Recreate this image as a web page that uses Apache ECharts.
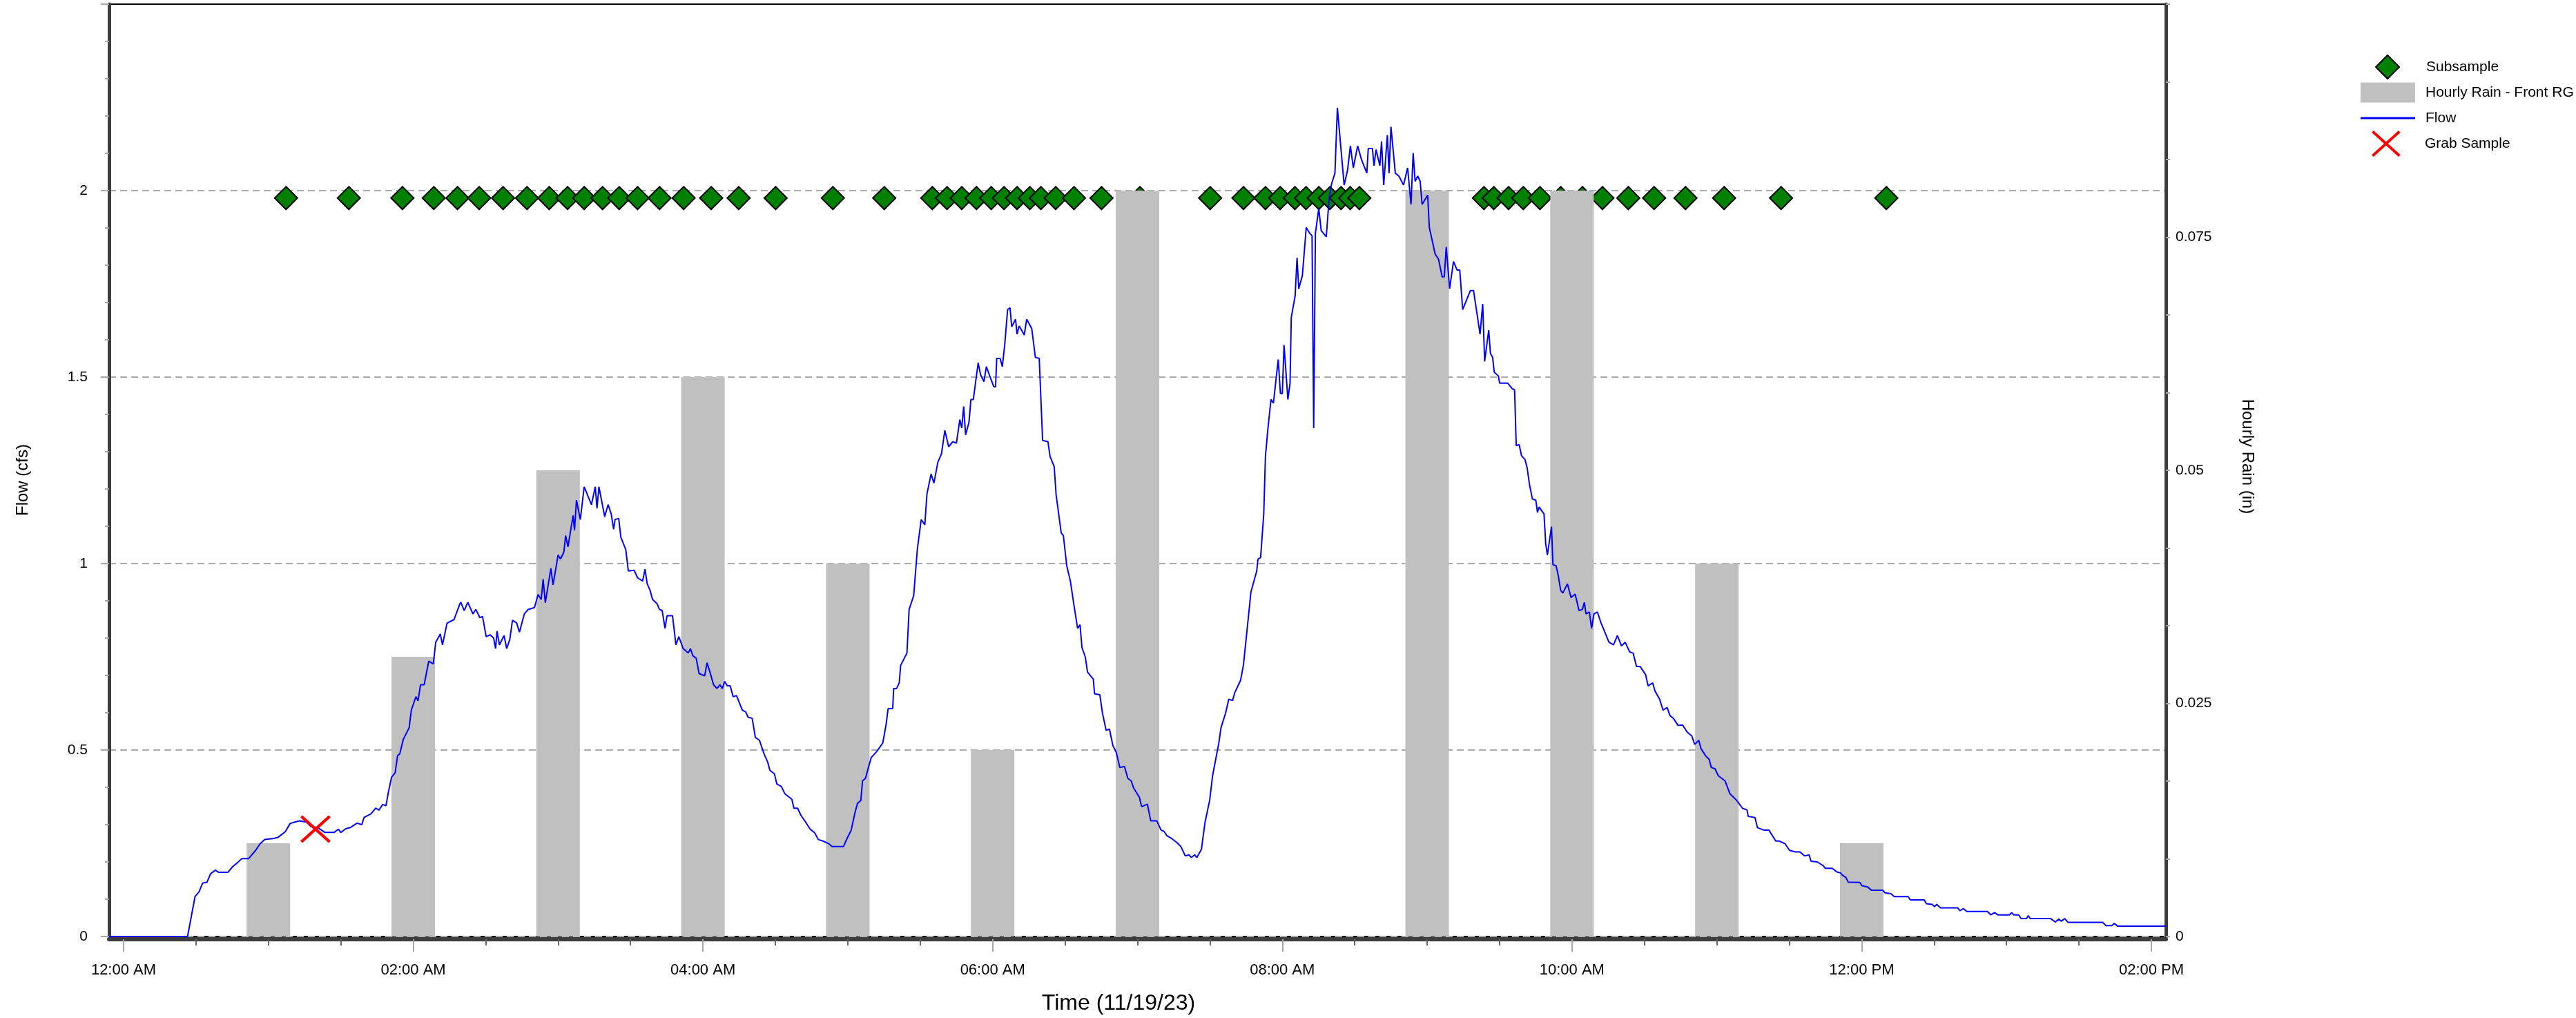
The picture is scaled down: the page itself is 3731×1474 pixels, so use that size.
<!DOCTYPE html>
<html>
<head>
<meta charset="utf-8">
<title>Flow, hourly rain and samples – 11/19/23</title>
<script src="https://cdn.jsdelivr.net/npm/echarts@6/dist/echarts.min.js"></script>
<style>
  html, body { margin: 0; padding: 0; background: #ffffff; }
  #chart { width: 3731px; height: 1474px; }
</style>
</head>
<body>
<div id="chart"></div>
<script>
// Times are minutes after midnight on 11/19/23.

// Hourly rain at the Front RG gauge (bar centred on the hour), inches
const rainHourMinutes = [60, 120, 180, 240, 300, 360, 420, 480, 540, 600, 660, 720, 780];
const rainInches      = [0.01, 0.03, 0.05, 0.06, 0.04, 0.02, 0.08, 0, 0.08, 0.08, 0.04, 0.01, 0];

// Composite subsample pulls, plotted along a fixed reference level
const subsampleMinutes = [
  67.3, 93.3, 115.5, 128.5, 138.3, 147.3, 157.2, 167.1, 176.3, 183.9, 190.8, 198.4,
  205.3, 212.9, 222.0, 232.0, 243.4, 254.8, 270.1, 293.8, 315.1, 335.0, 341.1, 347.2,
  353.3, 359.4, 364.7, 370.1, 375.4, 380.0, 386.1, 393.7, 405.1, 421.0, 450.1, 463.9,
  473.0, 479.1, 485.2, 489.8, 495.1, 499.7, 504.3, 508.1, 511.9, 563.5, 567.6, 573.7,
  579.8, 586.7, 595.3, 604.3, 612.6, 623.3, 634.0, 647.0, 663.0, 686.6, 730.2
];
const subsampleLevel = 1.98;

// Grab sample
const grabMinutes = [79.5];
const grabCfs     = [0.288];

// Flow record [minute, cfs]
const flowReadings = [
  [-6,0],[26.5,0],[29.6,0.107],[31.3,0.12],[32.7,0.143],[34.6,0.146],[36,0.168],[38,0.178],
  [39.4,0.172],[43.2,0.172],[45,0.186],[47,0.197],[49,0.209],[51.8,0.209],[54.7,0.231],
  [56.6,0.249],[58.5,0.26],[62.3,0.263],[64,0.266],[67,0.281],[69,0.303],[71,0.307],
  [72.8,0.31],[75.7,0.307],[77.6,0.295],[80.5,0.292],[83.4,0.279],[87.2,0.279],[89,0.288],
  [90,0.279],[92,0.289],[93.9,0.292],[96.7,0.304],[98.7,0.3],[99.6,0.319],[102.5,0.329],
  [104.4,0.344],[105.8,0.339],[107.3,0.354],[108.7,0.351],[109.7,0.387],[111,0.427],
  [112.5,0.439],[113.5,0.485],[114.4,0.49],[115.9,0.529],[118.3,0.56],[119.2,0.607],
  [121.1,0.643],[122,0.632],[123,0.675],[124.5,0.675],[126.4,0.738],[128.3,0.731],
  [129.3,0.789],[131.2,0.811],[132.1,0.782],[134,0.84],[136.9,0.85],[139.3,0.892],
  [139.7,0.896],[141.1,0.874],[142.6,0.896],[144.7,0.865],[145.9,0.877],[147.6,0.855],
  [148.7,0.858],[150.2,0.804],[151.9,0.809],[153.3,0.8],[154.1,0.772],[154.7,0.819],
  [155.7,0.782],[157.6,0.807],[158.7,0.772],[160,0.797],[161.1,0.848],[162.8,0.841],
  [164,0.816],[166,0.865],[167.6,0.877],[170.2,0.882],[171.7,0.917],[173,0.904],
  [173.8,0.958],[174.7,0.895],[177,0.987],[177.9,0.943],[180,1.023],[181,1.012],
  [182.4,1.031],[183.1,1.075],[184.1,1.045],[186.2,1.129],[186.8,1.089],[187.6,1.17],
  [189.2,1.118],[190.8,1.206],[193.8,1.158],[195.4,1.206],[196.1,1.148],[196.9,1.206],
  [199.3,1.126],[200.7,1.158],[202,1.133],[203,1.092],[203.6,1.118],[205.1,1.121],
  [206,1.07],[208,1.038],[209.1,0.98],[211.5,0.982],[212.9,0.962],[215,0.953],[216,0.985],
  [216.9,0.946],[218.1,0.928],[219.1,0.904],[221,0.892],[222,0.877],[223.1,0.874],
  [224.3,0.826],[225.1,0.86],[227.4,0.86],[228.8,0.782],[230,0.804],[231.8,0.772],
  [233.9,0.76],[234.8,0.772],[235.8,0.753],[237.2,0.746],[238.4,0.705],[240.7,0.699],
  [241.7,0.734],[242.9,0.709],[244.4,0.675],[245.8,0.665],[247,0.675],[248,0.665],
  [249,0.684],[250.1,0.672],[251.3,0.672],[252.5,0.643],[253.9,0.646],[256.3,0.607],
  [257.7,0.602],[258.7,0.588],[260.4,0.585],[261.7,0.534],[263.4,0.526],[265.3,0.49],
  [266.8,0.468],[267.7,0.446],[269.6,0.436],[270.6,0.409],[272.5,0.402],[273.9,0.383],
  [276.8,0.368],[277.7,0.344],[279.2,0.344],[280.6,0.325],[282.5,0.307],[284.4,0.288],
  [286.3,0.278],[287.8,0.26],[289.7,0.256],[292.1,0.249],[293.5,0.241],[298.2,0.241],
  [299.7,0.263],[301.4,0.285],[303,0.333],[304,0.357],[305.4,0.365],[306.1,0.417],
  [307.3,0.424],[309.7,0.48],[312.1,0.497],[314.5,0.519],[315.9,0.57],[316.7,0.611],
  [318.6,0.611],[319,0.665],[320.2,0.665],[321.3,0.68],[321.9,0.727],[324.5,0.76],
  [325.4,0.877],[327.3,0.914],[328.8,1.038],[330.4,1.118],[331.9,1.104],[332.8,1.187],
  [334.5,1.24],[335,1.24],[335.7,1.216],[337.3,1.272],[338.8,1.294],[340.2,1.357],
  [341.8,1.313],[343.5,1.327],[345,1.323],[346.4,1.386],[347.2,1.363],[348,1.421],
  [348.8,1.345],[350.2,1.379],[351,1.44],[352,1.44],[354,1.538],[355,1.506],[356.4,1.488],
  [357.4,1.528],[358.8,1.503],[360.5,1.474],[361.2,1.474],[361.7,1.55],[363.1,1.55],
  [364,1.528],[365,1.586],[366.2,1.681],[367.2,1.686],[367.9,1.635],[369.5,1.655],
  [370.1,1.615],[371,1.637],[373.1,1.613],[374.1,1.655],[376.2,1.63],[377.7,1.553],
  [379.3,1.55],[380.7,1.33],[382.9,1.327],[383.8,1.287],[385.5,1.26],[386.3,1.184],
  [388.4,1.082],[389.3,1.075],[390.7,0.994],[392.2,0.953],[393.6,0.892],[395.2,0.826],
  [396.2,0.836],[397,0.775],[398.4,0.749],[399.3,0.709],[401.7,0.69],[402.2,0.651],
  [404.4,0.648],[405.5,0.599],[407,0.553],[408.4,0.556],[409.8,0.512],[411.2,0.494],
  [412.7,0.453],[414.6,0.456],[416,0.424],[417.4,0.417],[418.4,0.398],[420.8,0.373],
  [421.7,0.348],[424.1,0.355],[425.5,0.31],[428,0.31],[429.8,0.285],[431,0.282],
  [432.2,0.27],[434.1,0.263],[436.5,0.251],[438,0.241],[439.8,0.216],[441.3,0.219],
  [442.3,0.212],[443.7,0.219],[444.6,0.212],[446.5,0.234],[448,0.307],[449.9,0.365],
  [451.1,0.431],[453.7,0.519],[454.6,0.56],[456.5,0.599],[457.8,0.636],[459.4,0.633],
  [460.3,0.654],[462.7,0.687],[463.9,0.728],[467,0.924],[469.4,0.98],[469.9,1.012],
  [471,1.016],[472.3,1.133],[473,1.287],[474,1.36],[475.3,1.44],[476.3,1.43],[478.3,1.547],
  [479.2,1.456],[480,1.456],[480.7,1.586],[482.3,1.44],[483.2,1.484],[483.7,1.659],
  [485.3,1.718],[486.1,1.82],[486.8,1.737],[488.3,1.772],[489.9,1.901],[491.3,1.886],
  [492.3,1.879],[493,1.363],[493.7,1.886],[495.1,1.952],[496.1,1.893],[498.2,1.876],
  [499.4,1.981],[500.4,2.018],[501.8,2.047],[502.8,2.222],[505.6,2.015],[507,2.054],
  [508.2,2.12],[509.4,2.061],[511.2,2.12],[512.8,2.083],[515,2.047],[515.6,2.113],
  [517.3,2.113],[518,2.067],[518.8,2.11],[520.4,2.067],[521.1,2.132],[522,2.015],
  [523.5,2.149],[524.2,2.047],[525,2.171],[526.8,2.047],[528.3,2.039],[530.2,2.015],
  [531.9,2.061],[533.3,1.963],[534.2,2.101],[535,2.025],[536.1,2.039],[537.1,2.025],
  [537.9,1.963],[540.2,1.988],[540.9,1.901],[543.3,1.83],[544.7,1.816],[546.2,1.769],
  [547.1,1.769],[547.9,1.849],[549.3,1.737],[550.9,1.81],[552.4,1.787],[553.5,1.787],
  [554.7,1.681],[557.9,1.732],[559.2,1.732],[561.9,1.615],[563,1.696],[563.8,1.542],
  [565.5,1.626],[566.2,1.564],[567.1,1.553],[567.8,1.513],[569.5,1.503],[570,1.484],
  [573.3,1.484],[575.2,1.469],[576.2,1.466],[576.9,1.316],[578.1,1.319],[579.1,1.289],
  [580.5,1.279],[581.4,1.257],[582.4,1.211],[583.6,1.173],[585,1.17],[585.7,1.137],
  [586.4,1.152],[587.6,1.14],[588.4,1.133],[589.1,1.053],[589.8,1.023],[591.5,1.099],
  [592.1,0.997],[593.4,0.994],[594.3,0.968],[595.3,0.928],[596.2,0.921],[598.1,0.946],
  [599.6,0.909],[601.3,0.918],[602.9,0.874],[604.3,0.877],[605.1,0.896],[605.8,0.865],
  [607.2,0.87],[608.1,0.826],[609.1,0.865],[610.5,0.87],[612,0.841],[613.4,0.819],
  [615.3,0.789],[617.2,0.782],[618.8,0.807],[620.5,0.779],[622,0.789],[623.9,0.763],
  [625.3,0.76],[626.7,0.724],[628.2,0.724],[630.5,0.702],[631.5,0.672],[633.4,0.68],
  [634.4,0.658],[636.3,0.636],[637.7,0.607],[639.4,0.614],[640.6,0.592],[642,0.585],
  [643.9,0.566],[645.8,0.567],[647.7,0.548],[649.6,0.538],[650.8,0.515],[652.5,0.526],
  [653.4,0.504],[655.3,0.485],[656.8,0.475],[657.7,0.453],[659.2,0.45],[660.6,0.431],
  [663.4,0.417],[665.4,0.383],[668.2,0.365],[670.6,0.344],[672.5,0.339],[673,0.322],
  [675.8,0.319],[676.8,0.292],[679.6,0.285],[681.6,0.285],[684.4,0.256],[685.8,0.256],
  [688.2,0.249],[690.1,0.231],[692.5,0.227],[694.4,0.227],[696.3,0.216],[698.2,0.219],
  [699,0.202],[701.6,0.2],[704,0.19],[704.9,0.183],[707.8,0.183],[709.7,0.173],
  [711.1,0.171],[712.1,0.164],[713.5,0.158],[714.4,0.146],[719.2,0.145],[720.1,0.136],
  [722.5,0.133],[724,0.124],[728.7,0.124],[729.7,0.117],[732.1,0.115],[733.5,0.107],
  [739.2,0.107],[740.2,0.098],[745.9,0.098],[746.8,0.088],[749.2,0.086],[750.2,0.08],
  [751.1,0.086],[752.6,0.077],[759.7,0.077],[760.7,0.069],[762.1,0.075],[763.5,0.067],
  [772.1,0.067],[773.5,0.058],[775,0.064],[776.4,0.058],[781.2,0.058],[782.1,0.064],
  [783,0.058],[785,0.058],[786,0.048],[788.3,0.048],[789,0.056],[789.8,0.048],[798.3,0.048],
  [800.2,0.039],[801.7,0.047],[802.6,0.041],[804.1,0.048],[805.5,0.038],[819.8,0.038],
  [821.2,0.029],[823.6,0.029],[824.6,0.035],[826,0.028],[846,0.028]
];

// Time axis ticks and labels
const timeTickMinutes = [0, 120, 240, 360, 480, 600, 720, 840];
const timeTickLabels  = ['12:00 AM', '02:00 AM', '04:00 AM', '06:00 AM', '08:00 AM', '10:00 AM', '12:00 PM', '02:00 PM'];
const timeMinorTickMinutes = [30, 60, 90, 150, 180, 210, 270, 300, 330, 390, 420, 450,
                              510, 540, 570, 630, 660, 690, 750, 780, 810];

// A red "X" drawn as two crossing bars
const X_MARK = 'path://M0,3 L3,0 L44,37 L41,40 Z M41,0 L44,3 L3,40 L0,37 Z';
// Plain line swatch for the flow legend entry
const LINE_SWATCH = 'path://M0,0 L79,0 L79,3 L0,3 Z';

const FONT = '"Liberation Sans", Arial, Helvetica, sans-serif';
const AXIS_DARK = '#3d3d3d';
const TICK_GRAY = '#a8a8a8';

const chart = echarts.init(document.getElementById('chart'), null, { renderer: 'canvas' });

function timeLabel(v) {
  const i = timeTickMinutes.indexOf(v);
  return i >= 0 ? timeTickLabels[i] : '';
}

const legendText = (pad) => ({ fontFamily: FONT, fontSize: 21, color: '#000', padding: [0, 0, 0, pad] });

const option = {
  animation: false,
  backgroundColor: '#ffffff',
  textStyle: { fontFamily: FONT },
  grid: {
    left: 158, top: 6, width: 2979, height: 1352,
    show: true, borderColor: '#000', borderWidth: 2, backgroundColor: 'transparent'
  },
  legend: [
    {
      data: [{ name: 'Subsample', icon: 'diamond' }],
      left: 3440, top: 79, padding: 0, itemWidth: 34, itemHeight: 34,
      itemStyle: { borderColor: '#000', borderWidth: 2, opacity: 1 },
      textStyle: legendText(34), selectedMode: false
    },
    {
      data: [{ name: 'Hourly Rain - Front RG', icon: 'rect' }],
      left: 3419, top: 119.5, padding: 0, itemWidth: 79, itemHeight: 29,
      textStyle: legendText(10), selectedMode: false
    },
    {
      data: [{ name: 'Flow', icon: LINE_SWATCH }],
      left: 3419, top: 160.5, padding: 0, itemWidth: 79, itemHeight: 3,
      itemStyle: { color: '#0000ff' },
      textStyle: legendText(10), selectedMode: false
    },
    {
      data: [{ name: 'Grab Sample', icon: X_MARK }],
      left: 3435, top: 189, padding: 0, itemWidth: 44, itemHeight: 38,
      itemStyle: { opacity: 1 },
      textStyle: legendText(29), selectedMode: false
    }
  ],
  xAxis: [
    {
      type: 'value', min: -6, max: 846, position: 'bottom', offset: 4,
      axisLine: { show: true, onZero: false, lineStyle: { color: AXIS_DARK, width: 6 } },
      axisTick: { show: true, customValues: timeTickMinutes, length: 18, lineStyle: { color: TICK_GRAY, width: 2 } },
      axisLabel: {
        show: true, customValues: timeTickMinutes, formatter: timeLabel,
        margin: 34, fontSize: 22, color: '#000', fontFamily: FONT
      },
      splitLine: { show: false },
      name: 'Time (11/19/23)', nameLocation: 'middle', nameGap: 77,
      nameTextStyle: { fontSize: 32, color: '#000', fontFamily: FONT, padding: [0, 55, 0, 0] }
    },
    {
      type: 'value', min: -6, max: 846, position: 'bottom', offset: 4,
      axisLine: { show: false, onZero: false },
      axisTick: { show: true, customValues: timeMinorTickMinutes, length: 9, lineStyle: { color: '#666', width: 2 } },
      axisLabel: { show: false, customValues: timeMinorTickMinutes },
      splitLine: { show: false }
    }
  ],
  yAxis: [
    {
      type: 'value', min: 0, max: 2.5, interval: 0.5, position: 'left',
      axisLine: { show: true, onZero: false, lineStyle: { color: AXIS_DARK, width: 5 } },
      axisTick: { show: true, length: 12, lineStyle: { color: TICK_GRAY, width: 2 } },
      minorTick: { show: true, splitNumber: 5, length: 6, lineStyle: { color: TICK_GRAY, width: 2 } },
      axisLabel: { margin: 31, fontSize: 21, color: '#000', fontFamily: FONT, showMaxLabel: false },
      splitLine: { show: true, showMaxLine: false, lineStyle: { color: '#aaaaaa', width: 2, type: [10, 6] } },
      name: 'Flow (cfs)', nameLocation: 'middle', nameGap: 113,
      nameTextStyle: { fontSize: 24, color: '#000', fontFamily: FONT, padding: [0, 28, 0, 0] }
    },
    {
      type: 'value', min: 0, max: 0.1, interval: 0.025, position: 'right',
      axisLine: { show: true, onZero: false, lineStyle: { color: AXIS_DARK, width: 5 } },
      axisTick: { show: true, length: 6, lineStyle: { color: TICK_GRAY, width: 2 } },
      minorTick: { show: true, splitNumber: 3, length: 6, lineStyle: { color: TICK_GRAY, width: 2 } },
      axisLabel: { margin: 14, fontSize: 21, color: '#000', fontFamily: FONT, showMaxLabel: false },
      splitLine: { show: false },
      name: 'Hourly Rain (in)', nameLocation: 'middle', nameRotate: -90, nameGap: 106,
      nameTextStyle: { fontSize: 24, color: '#000', fontFamily: FONT, padding: [0, 40, 0, 0] }
    }
  ],
  series: [
    {
      name: 'Subsample', type: 'scatter', xAxisIndex: 0, yAxisIndex: 0, z: 2,
      symbol: 'diamond', symbolSize: [33, 33],
      itemStyle: { color: '#008000', borderColor: '#000', borderWidth: 2, opacity: 1 },
      data: subsampleMinutes.map(m => [m, subsampleLevel])
    },
    {
      name: 'Hourly Rain - Front RG', type: 'bar', xAxisIndex: 0, yAxisIndex: 1, z: 3,
      barWidth: 63,
      itemStyle: { color: '#c0c0c0' },
      data: rainHourMinutes.map((m, i) => [m, rainInches[i]])
    },
    {
      name: 'Flow', type: 'line', xAxisIndex: 0, yAxisIndex: 0, z: 4,
      symbol: 'none', showSymbol: false,
      lineStyle: { color: '#0000ff', width: 2 },
      itemStyle: { color: '#0000ff' },
      data: flowReadings
    },
    {
      name: 'Grab Sample', type: 'scatter', xAxisIndex: 0, yAxisIndex: 0, z: 5,
      symbol: X_MARK, symbolSize: [44, 40],
      itemStyle: { color: '#ff0000', opacity: 1 },
      data: grabMinutes.map((m, i) => [m, grabCfs[i]])
    }
  ]
};

chart.setOption(option);
</script>
</body>
</html>
